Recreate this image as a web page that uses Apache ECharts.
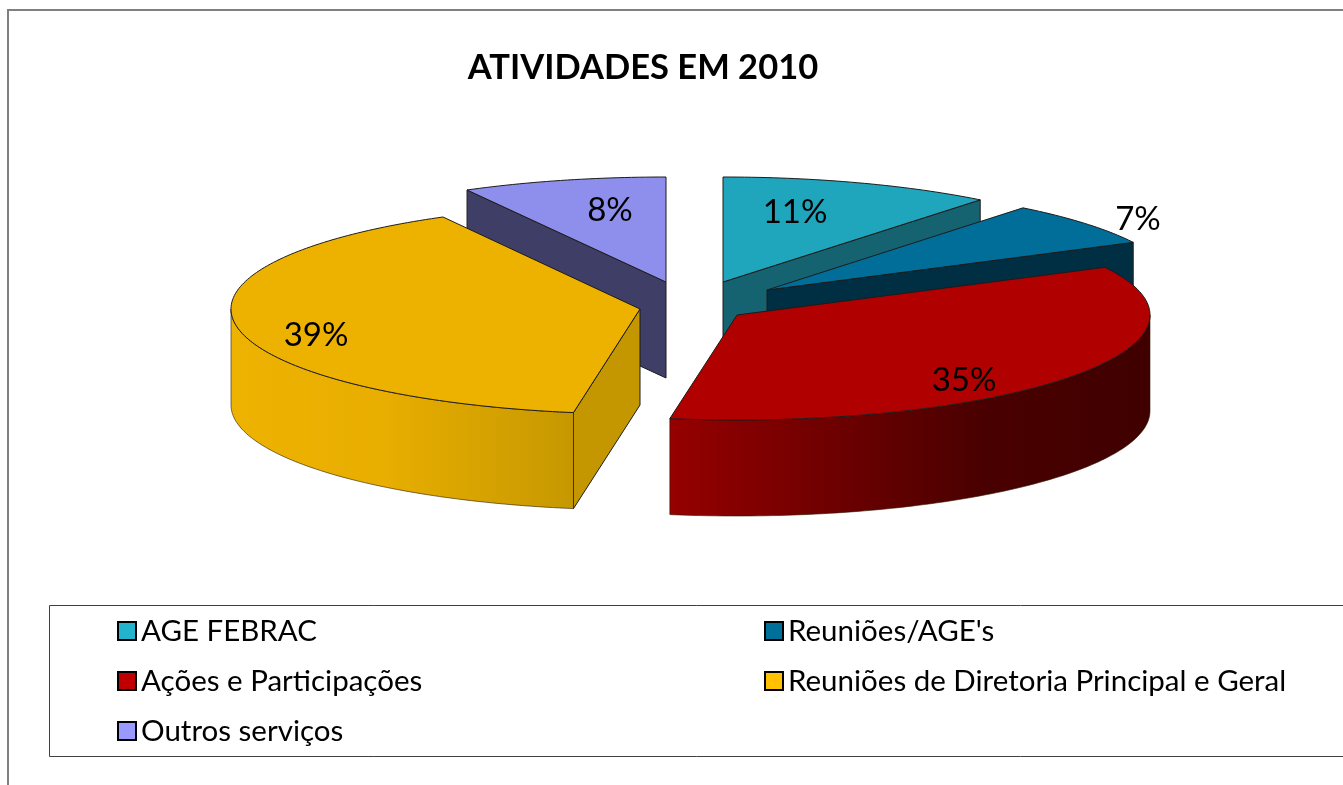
<!DOCTYPE html>
<html>
<head>
<meta charset="utf-8">
<title>ATIVIDADES EM 2010</title>
<script src="https://cdn.jsdelivr.net/npm/echarts@6/dist/echarts.min.js"></script>
<style>
    html, body { margin: 0; padding: 0; background: #fff; overflow: hidden; }
    #chart { width: 1343px; height: 785px; }
</style>
</head>
<body>
<div id="chart"></div>
<script>
    // data
    const chartTitle = 'ATIVIDADES EM 2010';
    const categories = ['AGE FEBRAC', "Reuniões/AGE's", 'Ações e Participações', 'Reuniões de Diretoria Principal e Geral', 'Outros serviços'];
    const shares = [10.7, 6.8, 35.1, 39.4, 8.0];

    // colours
    const legendColors = ['#22b4cc', '#006f99', '#c00000', '#ffc000', '#9999ff'];
    const topColors = ['#1fa6bd', '#006e99', '#b00000', '#edb200', '#8e8eec'];
    const wallColors = ['#156270', '#002e42', '#8a0000', '#c49600', '#3e3e66'];
    const rimStops = {
        2: [[0, '#960000'], [0.65, '#4a0000'], [1, '#400000']],
        3: [[0, '#eeb200'], [0.45, '#e8ae00'], [1, '#c69800']]
    };

    // pie layout: every slice is pulled away from the middle, so each has its own centre
    const RY = 105, DEPTH = 96;
    const radiiX = [413, 411, 413, 409, 413];
    const centres = [[723, 282], [767, 290], [737, 315], [640, 309], [666, 282]];
    const labelOffsets = [[72, -70], [371, -71], [227, 65], [-324, 26], [-56, -72]];
    const total = shares.reduce((a, b) => a + b, 0);

    function arcPoints(i, from, to, dy) {
        let [cx, cy] = centres[i];
        let pts = [];
        for (let a = from; a < to; a += 1) {
            let r = a * Math.PI / 180;
            pts.push([cx + radiiX[i] * Math.sin(r), cy - RY * Math.cos(r) + dy]);
        }
        let e = to * Math.PI / 180;
        pts.push([cx + radiiX[i] * Math.sin(e), cy - RY * Math.cos(e) + dy]);
        return pts;
    }

    function drawSlice(i, value) {
        let before = shares.slice(0, i).reduce((a, b) => a + b, 0);
        let start = before / total * 360;
        let end = start + value / total * 360;
        let [cx, cy] = centres[i];
        let top = arcPoints(i, start, end, 0);
        let line = { stroke: '#1c1c1c', lineWidth: 1 };
        let children = [];

        // cut faces, only those turned to the viewer
        let cuts = [];
        if (Math.sin(start * Math.PI / 180) < -0.001) cuts.push(top[0]);
        if (Math.sin(end * Math.PI / 180) > 0.001) cuts.push(top[top.length - 1]);
        cuts.forEach(p => {
            children.push({
                type: 'polygon',
                shape: { points: [[cx, cy], p, [p[0], p[1] + DEPTH], [cx, cy + DEPTH]] },
                style: { fill: wallColors[i], ...line }
            });
        });

        // outer rim, only the part facing the viewer
        let rimFrom = Math.max(start, 90), rimTo = Math.min(end, 270);
        if (rimTo > rimFrom) {
            let upper = arcPoints(i, rimFrom, rimTo, 0);
            let lower = arcPoints(i, rimFrom, rimTo, DEPTH).reverse();
            children.push({
                type: 'polygon',
                shape: { points: upper.concat(lower) },
                style: {
                    fill: new echarts.graphic.LinearGradient(0, 0, 1, 0,
                        rimStops[i].map(s => ({ offset: s[0], color: s[1] }))),
                    stroke: '#2a1a00', lineWidth: 0.6
                }
            });
        }

        // top face
        children.push({
            type: 'polygon',
            shape: { points: [[cx, cy]].concat(top) },
            style: { fill: topColors[i], ...line }
        });

        // percentage
        children.push({
            type: 'text',
            style: {
                x: cx + labelOffsets[i][0],
                y: cy + labelOffsets[i][1],
                text: Math.round(value) + '%',
                fill: '#000',
                font: '33px Lato',
                align: 'center',
                verticalAlign: 'middle'
            }
        });
        return { type: 'group', children: children };
    }

    let legendBase = {
        orient: 'vertical', top: 616, padding: 0, itemGap: 20, itemWidth: 18, itemHeight: 18, icon: 'rect',
        itemStyle: { borderColor: '#000', borderWidth: 2 },
        textStyle: { fontFamily: 'Lato', fontSize: 29.5, color: '#000' }
    };

    let myChart = echarts.init(document.getElementById('chart'), null, { renderer: 'canvas' });
    myChart.setOption({
        animation: false,
        backgroundColor: '#fff',
        title: {
            text: chartTitle,
            left: 638,
            top: 45,
            textAlign: 'center',
            textStyle: { fontFamily: 'Lato', fontSize: 34.5, fontWeight: 'bold', color: '#000' }
        },
        graphic: [
            { type: 'rect', z: -1, shape: { x: 8, y: 10, width: 1400, height: 850 }, style: { fill: '#fff', stroke: '#808080', lineWidth: 2 } },
            { type: 'rect', z: -1, shape: { x: 49.5, y: 605.5, width: 1400, height: 151 }, style: { fill: '#fff', stroke: '#404040', lineWidth: 1 } }
        ],
        legend: [
            { ...legendBase, left: 117, data: [categories[0], categories[2], categories[4]] },
            { ...legendBase, left: 764, data: [categories[1], categories[3]] }
        ],
        series: categories.map((name, i) => ({
            type: 'custom',
            name: name,
            coordinateSystem: 'none',
            silent: true,
            z: i === 4 ? 1 : 2 + i,
            itemStyle: { color: legendColors[i] },
            data: [shares[i]],
            renderItem: (params, api) => drawSlice(i, api.value(0))
        }))
    });
</script>
</body>
</html>
